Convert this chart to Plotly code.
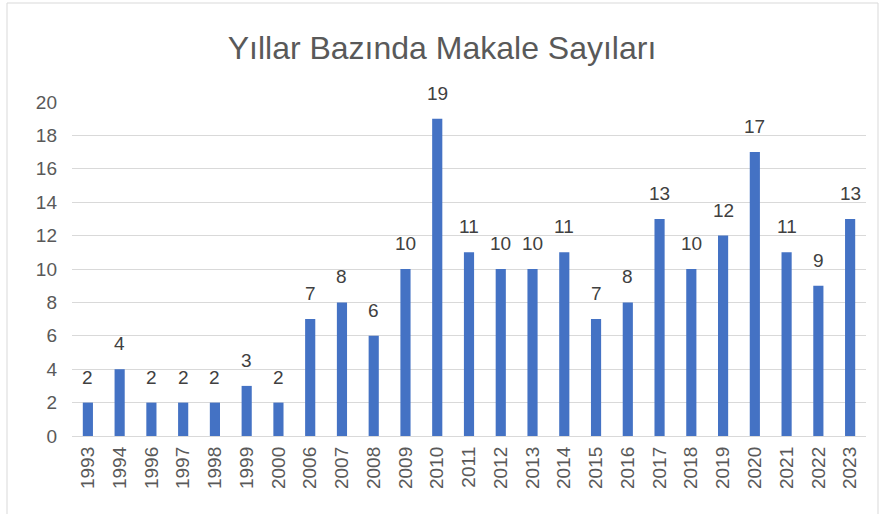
import plotly.graph_objects as go

years = ["1993", "1994", "1996", "1997", "1998", "1999", "2000", "2006", "2007", "2008",
         "2009", "2010", "2011", "2012", "2013", "2014", "2015", "2016", "2017", "2018",
         "2019", "2020", "2021", "2022", "2023"]
counts = [2, 4, 2, 2, 2, 3, 2, 7, 8, 6, 10, 19, 11, 10, 10, 11, 7, 8, 13, 10, 12, 17, 11, 9, 13]
y_ticks = [0, 2, 4, 6, 8, 10, 12, 14, 16, 18, 20]

W, H = 884, 514
ml, mr, mt, mb = 72, 18, 102, 78
pw, ph = W - ml - mr, H - mt - mb

def px_x(x):
    return (x - ml) / pw

def px_y(y):
    return (H - mb - y) / ph

font_family = "Liberation Sans, Arial, sans-serif"

fig = go.Figure()
fig.add_trace(go.Bar(
    x=years, y=counts,
    marker=dict(color="#4472C4", line=dict(width=0)),
    hoverinfo="x+y",
))

for i, c in enumerate(counts):
    fig.add_annotation(x=i, y=c, text=str(c), showarrow=False,
                       xanchor="center", yanchor="bottom", yshift=13,
                       font=dict(size=19, color="#404040", family=font_family))

fig.update_layout(
    width=W, height=H,
    margin=dict(l=ml, r=mr, t=mt, b=mb, pad=0),
    paper_bgcolor="white", plot_bgcolor="white",
    bargap=0.68,
    showlegend=False,
    title=dict(text="Yıllar Bazında Makale Sayıları", x=0.5, xanchor="center",
               y=1 - 48 / H, yanchor="middle",
               font=dict(size=32, color="#595959", family=font_family)),
    xaxis=dict(type="category", range=[-0.5, len(years) - 0.5], tickangle=-90,
               showgrid=False, showline=False,
               ticks="", ticklabelstandoff=6, automargin=False,
               tickfont=dict(size=19, color="#595959", family=font_family)),
    yaxis=dict(range=[0, 20], tickvals=y_ticks, showgrid=True, gridcolor="#D9D9D9",
               gridwidth=1, zeroline=True, zerolinecolor="#D9D9D9", zerolinewidth=1,
               showline=False, ticks="", ticklabelstandoff=14, automargin=False,
               tickfont=dict(size=19, color="#595959", family=font_family)),
    shapes=[dict(type="rect", xref="paper", yref="paper",
                 x0=px_x(7), x1=px_x(878), y0=px_y(520), y1=px_y(3),
                 line=dict(color="#D9D9D9", width=1), fillcolor="rgba(0,0,0,0)", layer="below")],
)

fig.write_html("out.html", config={"displayModeBar": False},
               post_script="document.body.style.margin='0';document.body.style.overflow='hidden';")
